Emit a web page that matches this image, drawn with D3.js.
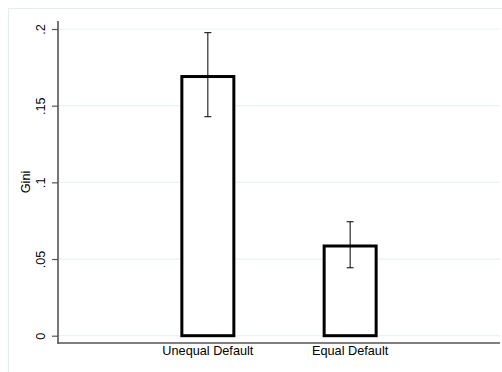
<!DOCTYPE html>
<html>
<head>
<meta charset="utf-8">
<script src="https://cdn.jsdelivr.net/npm/d3@7"></script>
<style>
  body { margin: 0; background: #fff; }
  text { font-family: "Liberation Sans", Arial, Helvetica, sans-serif; }
</style>
</head>
<body>
<div id="chart"></div>
<script>
// data
var categories = ["Unequal Default", "Equal Default"];
var gini = [0.169, 0.0585];
var ciLow = [0.1428, 0.0443];
var ciHigh = [0.1976, 0.0743];
var yTicks = [0, 0.05, 0.1, 0.15, 0.2];
var yTickLabels = ["0", ".05", ".1", ".15", ".2"];

var svgWidth = 502, svgHeight = 372;
var plotLeft = 58, plotRight = 500, plotTop = 21, plotBottom = 343;
var y0 = 335.7, y2 = 29;
var fontSize = 12.7;

var svg = d3.select("#chart").append("svg")
  .attr("width", svgWidth)
  .attr("height", svgHeight);

// outer frame, runs off the picture
svg.append("rect")
  .attr("x", 8.5).attr("y", 8.5)
  .attr("width", 600).attr("height", 600)
  .attr("fill", "none")
  .attr("stroke", "#e6eded");

var x = d3.scaleBand()
  .domain(categories)
  .range([plotLeft, plotRight])
  .paddingInner(0.6135)
  .paddingOuter(0.86);

var y = d3.scaleLinear()
  .domain([0, 0.2])
  .range([y0, y2]);

// gridlines
svg.append("g").selectAll("line")
  .data(yTicks)
  .enter().append("line")
  .attr("x1", plotLeft).attr("x2", plotRight)
  .attr("y1", function(d){ return y(d); })
  .attr("y2", function(d){ return y(d); })
  .attr("stroke", "#eaf2f2")
  .attr("stroke-width", 1.2);

// bars
svg.append("g").selectAll("rect")
  .data(gini)
  .enter().append("rect")
  .attr("x", function(d,i){ return x(categories[i]) + 1.5; })
  .attr("y", function(d){ return y(d); })
  .attr("width", x.bandwidth() - 3)
  .attr("height", function(d){ return y(0) - y(d); })
  .attr("fill", "#fff")
  .attr("stroke", "#000")
  .attr("stroke-width", 3);

// error bars
var capW = 3.5;
var eb = svg.append("g").selectAll("g")
  .data(categories)
  .enter().append("g")
  .attr("stroke", "#000")
  .attr("stroke-width", 1);
eb.append("line")
  .attr("x1", function(d){ return x(d) + x.bandwidth()/2; })
  .attr("x2", function(d){ return x(d) + x.bandwidth()/2; })
  .attr("y1", function(d,i){ return y(ciLow[i]); })
  .attr("y2", function(d,i){ return y(ciHigh[i]); });
eb.append("line")
  .attr("x1", function(d){ return x(d) + x.bandwidth()/2 - capW; })
  .attr("x2", function(d){ return x(d) + x.bandwidth()/2 + capW; })
  .attr("y1", function(d,i){ return y(ciHigh[i]); })
  .attr("y2", function(d,i){ return y(ciHigh[i]); });
eb.append("line")
  .attr("x1", function(d){ return x(d) + x.bandwidth()/2 - capW; })
  .attr("x2", function(d){ return x(d) + x.bandwidth()/2 + capW; })
  .attr("y1", function(d,i){ return y(ciLow[i]); })
  .attr("y2", function(d,i){ return y(ciLow[i]); });

// y axis
var yAxis = d3.axisLeft(y)
  .tickValues(yTicks)
  .tickSize(6)
  .tickFormat(function(d,i){ return yTickLabels[i]; });
var ya = svg.append("g")
  .attr("transform", "translate(" + plotLeft + ",0)")
  .call(yAxis);
ya.select(".domain").remove();
ya.selectAll(".tick line").attr("stroke", "#555").attr("stroke-width", 1.2);
ya.selectAll(".tick text")
  .attr("font-size", fontSize)
  .attr("fill", "#000")
  .attr("x", null).attr("dy", null)
  .attr("text-anchor", "middle")
  .attr("transform", "translate(-16,0) rotate(-90)")
  .attr("dominant-baseline", "middle");
svg.append("line")
  .attr("x1", plotLeft).attr("x2", plotLeft)
  .attr("y1", plotTop).attr("y2", plotBottom + 0.8)
  .attr("stroke", "#555").attr("stroke-width", 1.6);

// x axis
var xAxis = d3.axisBottom(x).tickSize(0).tickPadding(3);
var xa = svg.append("g")
  .attr("transform", "translate(0," + plotBottom + ")")
  .call(xAxis);
xa.select(".domain").remove();
xa.selectAll(".tick text").attr("font-size", fontSize).attr("fill", "#000");
svg.append("line")
  .attr("x1", plotLeft - 0.8).attr("x2", plotRight)
  .attr("y1", plotBottom).attr("y2", plotBottom)
  .attr("stroke", "#555").attr("stroke-width", 1.6);

// y title
svg.append("text")
  .attr("transform", "translate(27," + ((plotTop + plotBottom) / 2) + ") rotate(-90)")
  .attr("text-anchor", "middle")
  .attr("dominant-baseline", "middle")
  .attr("font-size", fontSize)
  .text("Gini");
</script>
</body>
</html>
